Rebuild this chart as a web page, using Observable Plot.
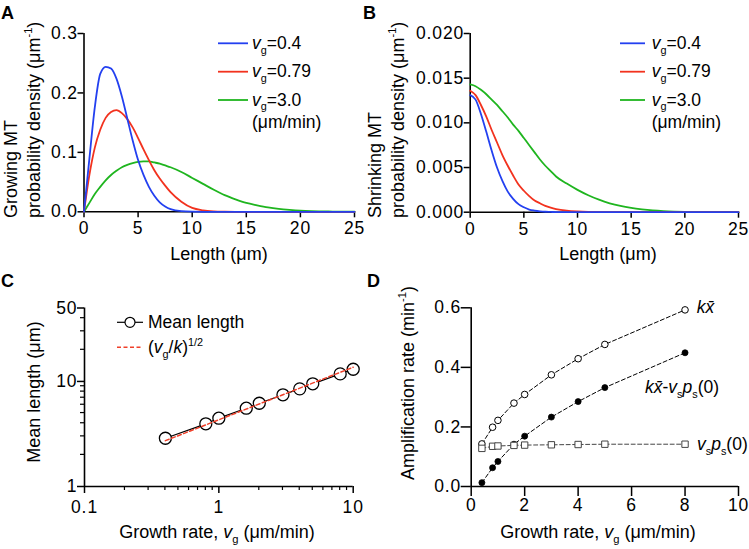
<!DOCTYPE html>
<html><head><meta charset="utf-8">
<script src="https://cdn.jsdelivr.net/npm/d3@7"></script>
<script src="https://cdn.jsdelivr.net/npm/@observablehq/plot@0.6"></script>
<style>
body{margin:0;background:#fff;}
#fig{position:relative;width:749px;height:549px;overflow:hidden;background:#fff;}
#fig .panel{position:absolute;}
#fig svg text{font-family:"Liberation Sans",Arial,Helvetica,sans-serif;}
#overlay{position:absolute;left:0;top:0;pointer-events:none;}
#fig g[aria-label*="axis"] line,#fig g[aria-label*="axis"] path{stroke-width:1.5px;}
</style></head><body><div id="fig"></div>
<script>
// ---------- data ----------
const lengthUm = [0,0.5,1,1.5,2,2.5,3,3.5,4,4.5,5,5.5,6,6.5,7,7.5,8,9,10,11,12,13,14,15,16,17,18,19,20,21,22,23,24,25];
const growV04  = [0,0.090,0.176,0.232,0.244,0.241,0.224,0.194,0.157,0.120,0.087,0.062,0.042,0.027,0.016,0.009,0.0045,0.001,0.0002,0,0,0,0,0,0,0,0,0,0,0,0,0,0,0];
const growV079 = [0,0.062,0.108,0.138,0.158,0.168,0.171,0.166,0.156,0.142,0.124,0.105,0.087,0.070,0.056,0.044,0.033,0.017,0.0065,0.0025,0.0008,0.0002,0,0,0,0,0,0,0,0,0,0,0,0];
const growV3   = [0,0.015,0.030,0.042,0.053,0.062,0.069,0.075,0.079,0.082,0.084,0.0848,0.0848,0.083,0.081,0.078,0.075,0.067,0.057,0.047,0.037,0.028,0.021,0.015,0.011,0.0075,0.005,0.0033,0.002,0.0012,0.0007,0.0004,0.0002,0.0001];
const shrinkV04  = [0.0131,0.0126,0.0110,0.0090,0.0069,0.0050,0.0035,0.0023,0.0015,0.0009,0.00055,0.0003,0.00018,0.0001,0.00005,0.00003,0.00001,0,0,0,0,0,0,0,0,0,0,0,0,0,0,0,0,0];
const shrinkV079 = [0.0136,0.0131,0.0120,0.0107,0.0092,0.0078,0.0064,0.0052,0.0041,0.0031,0.0024,0.0018,0.0013,0.0010,0.0007,0.0005,0.00035,0.00017,0.00008,0.00003,0.00001,0,0,0,0,0,0,0,0,0,0,0,0,0];
const shrinkV3   = [0.0143,0.0141,0.0137,0.0132,0.0126,0.0120,0.0113,0.0106,0.0098,0.0091,0.0083,0.0075,0.0067,0.0059,0.0052,0.0046,0.0040,0.0032,0.0025,0.0019,0.0014,0.0010,0.0007,0.00048,0.00032,0.0002,0.00012,0.00007,0.00004,0.00002,0.00001,0,0,0];
const seriesLabels = ["*v*_g=0.4", "*v*_g=0.79", "*v*_g=3.0"];
const seriesColors = ["#2340f0", "#f2321e", "#1fb51f"];

const vgC = [0.4,0.8,1,1.6,2,3,4,5,8,10];
const meanLength = [2.88,3.95,4.47,5.56,6.20,7.46,8.50,9.49,11.8,13.06];
const fitVg = [0.4,10];
const fitLength = [2.73,13.65];

const vgD = [0.4,0.8,1,1.6,2,3,4,5,8];
const kxbar = [0.143,0.199,0.222,0.280,0.309,0.375,0.429,0.477,0.593];
const netAmp = [0.013,0.063,0.084,0.142,0.169,0.233,0.285,0.332,0.449];
const vsps0 = [0.128,0.135,0.136,0.138,0.139,0.140,0.141,0.142,0.142];

// ---------- helpers ----------
const FONT = '"Liberation Sans", Arial, Helvetica, sans-serif';
const TITLE = 18, LEG = 17.5;
const fig = d3.select("#fig");
function place(svg, left, top) {
  svg.classList.add("panel");
  svg.style.left = left + "px"; svg.style.top = top + "px";
  d3.select(svg).selectAll("text")
    .style("font-size", "17.5px").style("letter-spacing", "0.9px").style("fill", "black");
  fig.node().appendChild(svg);
}
function baseStyle() {
  return {fontSize: "17.5px", fontFamily: FONT, color: "black", background: "white", overflow: "visible"};
}
function rich(parent, markup, o) {
  const size = o.size || LEG;
  const t = parent.append("text").attr("font-size", size).attr("text-anchor", o.anchor || "start")
    .attr("fill", "black").style("font-family", FONT);
  if (o.rotate) t.attr("transform", `translate(${o.x},${o.y}) rotate(-90)`);
  else t.attr("x", o.x).attr("y", o.y);
  if (o.weight) t.attr("font-weight", o.weight);
  const runs = []; let italic = false, buf = "", i = 0;
  const flush = () => { if (buf) runs.push({s: buf, italic, mode: "n"}); buf = ""; };
  while (i < markup.length) {
    const c = markup[i];
    if (c === "*") { flush(); italic = !italic; i++; }
    else if (c === "_" || c === "^") {
      flush(); let s;
      if (markup[i+1] === "{") { const j = markup.indexOf("}", i+2); s = markup.slice(i+2, j); i = j+1; }
      else { s = markup[i+1]; i += 2; }
      runs.push({s, italic: false, mode: c === "_" ? "sub" : "sup"});
    } else { buf += c; i++; }
  }
  flush();
  let cur = 0;
  for (const r of runs) {
    const ts = t.append("tspan").text(r.s);
    if (r.italic) ts.attr("font-style", "italic");
    const target = r.mode === "sub" ? 0.28*size : r.mode === "sup" ? -0.42*size : 0;
    if (r.mode !== "n") ts.attr("font-size", 0.62*size);
    if (target !== cur) { ts.attr("dy", target - cur); cur = target; }
  }
  return t;
}
const rows = (xs, ys) => xs.map((x, i) => ({x, y: ys[i]}));

// ---------- Panel A ----------
const growSeries = [growV04, growV079, growV3];
const plotA = Plot.plot({
  width: 375, height: 270, marginLeft: 83.5, marginRight: 21, marginTop: 33, marginBottom: 58.7,
  style: baseStyle(),
  x: {domain: [0,25], ticks: [0,5,10,15,20,25], tickSize: 6, tickPadding: 4, label: null},
  y: {domain: [0,0.3], ticks: [0,0.1,0.2,0.3], tickFormat: d => d.toFixed(1), tickSize: 6, tickPadding: 0, label: null},
  marks: [
    Plot.ruleX([0], {stroke: "black", strokeWidth: 1.6}),
    Plot.ruleY([0], {stroke: "black", strokeWidth: 1.6}),
    ...[2,1,0].map(k => Plot.line(rows(lengthUm, growSeries[k]), {x: "x", y: "y", stroke: seriesColors[k], strokeWidth: 1.8, curve: "monotone-x"}))
  ]
});
place(plotA, 0, 0);

// ---------- Panel B ----------
const shrinkSeries = [shrinkV04, shrinkV079, shrinkV3];
const plotB = Plot.plot({
  width: 374, height: 270, marginLeft: 94.7, marginRight: 11, marginTop: 33, marginBottom: 58.3,
  style: baseStyle(),
  x: {domain: [0,25], ticks: [0,5,10,15,20,25], tickSize: 6, tickPadding: 4, label: null},
  y: {domain: [0,0.02], ticks: [0,0.005,0.01,0.015,0.02], tickFormat: d => d.toFixed(3), tickSize: 6, tickPadding: 0, label: null},
  marks: [
    Plot.ruleX([0], {stroke: "black", strokeWidth: 1.6}),
    Plot.ruleY([0], {stroke: "black", strokeWidth: 1.6}),
    ...[2,1,0].map(k => Plot.line(rows(lengthUm, shrinkSeries[k]), {x: "x", y: "y", stroke: seriesColors[k], strokeWidth: 1.8, curve: "monotone-x"}))
  ]
});
place(plotB, 375, 0);

// ---------- Panel C ----------
const plotC = Plot.plot({
  width: 375, height: 279, marginLeft: 84, marginRight: 22.3, marginTop: 37.5, marginBottom: 63,
  style: baseStyle(),
  x: {type: "log", domain: [0.1,10], ticks: [0.1,1,10], tickFormat: d => String(d), tickSize: 7, tickPadding: 7, label: null},
  y: {type: "log", domain: [1,50], ticks: [1,10,50], tickFormat: d => String(d), tickSize: 7, tickPadding: 0, label: null},
  marks: [
    Plot.ruleX([0.1], {stroke: "black", strokeWidth: 1.6}),
    Plot.ruleY([1], {stroke: "black", strokeWidth: 1.6}),
    Plot.line(rows(vgC, meanLength), {x: "x", y: "y", stroke: "black", strokeWidth: 1.2}),
    Plot.dot(rows(vgC, meanLength), {x: "x", y: "y", r: 6, fill: "white", stroke: "black", strokeWidth: 1.3}),
    Plot.line(rows(fitVg, fitLength), {x: "x", y: "y", stroke: "#f0402a", strokeWidth: 1.5, strokeDasharray: "4,2.5"})
  ]
});
place(plotC, 0, 270);
// minor log ticks on C
(function(){
  const sx = plotC.scale("x"), sy = plotC.scale("y");
  const fx = sx.apply ? v => sx.apply(v) : d3.scaleLog().domain(sx.domain).range(sx.range);
  const fy = sy.apply ? v => sy.apply(v) : d3.scaleLog().domain(sy.domain).range(sy.range);
  const g = d3.select(plotC).append("g").attr("stroke", "black").attr("stroke-width", 1.2);
  const minorX = [0.2,0.3,0.4,0.5,0.6,0.7,0.8,0.9,2,3,4,5,6,7,8,9];
  const minorY = [2,3,4,5,6,7,8,9,20,30,40];
  const y0 = fy(1), x0 = fx(0.1);
  for (const v of minorX) g.append("line").attr("x1", fx(v)).attr("x2", fx(v)).attr("y1", y0).attr("y2", y0 + 4);
  for (const v of minorY) g.append("line").attr("x1", x0).attr("x2", x0 - 4).attr("y1", fy(v)).attr("y2", fy(v));
})();

// ---------- Panel D ----------
const plotD = Plot.plot({
  width: 374, height: 279, marginLeft: 95.7, marginRight: 11, marginTop: 37.3, marginBottom: 63,
  style: baseStyle(),
  x: {domain: [0,10], ticks: [0,2,4,6,8,10], tickSize: 10, tickPadding: 2, label: null},
  y: {domain: [0,0.6], ticks: [0,0.2,0.4,0.6], tickFormat: d => d.toFixed(1), tickSize: 10, tickPadding: 0, label: null},
  marks: [
    Plot.ruleX([0], {stroke: "black", strokeWidth: 1.6}),
    Plot.ruleY([0], {stroke: "black", strokeWidth: 1.6}),
    Plot.line(rows(vgD, kxbar), {x: "x", y: "y", stroke: "black", strokeWidth: 1, strokeDasharray: "4,2.5"}),
    Plot.line(rows(vgD, netAmp), {x: "x", y: "y", stroke: "black", strokeWidth: 1, strokeDasharray: "4,2.5"}),
    Plot.line(rows(vgD, vsps0), {x: "x", y: "y", stroke: "#444", strokeWidth: 1, strokeDasharray: "4,2.5"}),
    Plot.dot(rows(vgD, netAmp), {x: "x", y: "y", r: 3, fill: "black", stroke: "black", strokeWidth: 0.8}),
    Plot.dot(rows(vgD, kxbar), {x: "x", y: "y", r: 3.3, fill: "white", stroke: "black", strokeWidth: 1}),
    Plot.dot(rows(vgD, vsps0), {x: "x", y: "y", r: 3.6, symbol: "square", fill: "white", stroke: "#444", strokeWidth: 1})
  ]
});
place(plotD, 375, 270);

// ---------- overlay: panel letters, titles, legends ----------
const ov = fig.append("svg").attr("id", "overlay").attr("width", 749).attr("height", 549);
[["A",1,18.5],["B",363,18.5],["C",1,287],["D",367,287]].forEach(([s,x,y]) =>
  rich(ov, s, {x, y, size: 18, weight: "bold"}));

// axis titles
rich(ov, "Growing MT", {x: 17, y: 218, rotate: true, size: TITLE});
rich(ov, "probability density (μm^{-1})", {x: 40, y: 218, rotate: true, size: TITLE});
rich(ov, "Length (μm)", {x: 219, y: 260, anchor: "middle", size: TITLE});
rich(ov, "Shrinking MT", {x: 381, y: 218, rotate: true, size: TITLE});
rich(ov, "probability density (μm^{-1})", {x: 404, y: 218, rotate: true, size: TITLE});
rich(ov, "Length (μm)", {x: 608, y: 260, anchor: "middle", size: TITLE});
rich(ov, "Mean length (μm)", {x: 40, y: 392, rotate: true, anchor: "middle", size: TITLE});
rich(ov, "Growth rate, *v*_g (μm/min)", {x: 217, y: 538, anchor: "middle", size: TITLE});
rich(ov, "Amplification rate (min^{-1})", {x: 414, y: 383, rotate: true, anchor: "middle", size: TITLE});
rich(ov, "Growth rate, *v*_g (μm/min)", {x: 598, y: 538, anchor: "middle", size: TITLE});

// legends A & B
[[218,248,252],[620,645,651.7]].forEach(([x1,x2,tx]) => {
  [43.3,71.7,100].forEach((y, k) => {
    ov.append("line").attr("x1", x1).attr("x2", x2).attr("y1", y).attr("y2", y)
      .attr("stroke", seriesColors[k]).attr("stroke-width", 1.8);
    rich(ov, seriesLabels[k], {x: tx, y: y + 5.5});
  });
  rich(ov, "(μm/min)", {x: tx, y: 128});
});

// legend C
ov.append("line").attr("x1", 117).attr("x2", 143).attr("y1", 322.3).attr("y2", 322.3).attr("stroke", "black").attr("stroke-width", 1.2);
ov.append("circle").attr("cx", 130).attr("cy", 322.3).attr("r", 5).attr("fill", "white").attr("stroke", "black").attr("stroke-width", 1.2);
rich(ov, "Mean length", {x: 148, y: 328.3});
ov.append("line").attr("x1", 117).attr("x2", 143).attr("y1", 347.3).attr("y2", 347.3).attr("stroke", "#f0402a").attr("stroke-width", 1.5).attr("stroke-dasharray", "4,2.5");
rich(ov, "(*v*_g/*k*)^{1/2}", {x: 148, y: 353.3});

// labels D
rich(ov, "*kx̄*", {x: 696.7, y: 312.7});
rich(ov, "*kx̄*-*v*_s*p*_s(0)", {x: 645, y: 393});
rich(ov, "*v*_s*p*_s(0)", {x: 697, y: 450});
</script></body></html>
